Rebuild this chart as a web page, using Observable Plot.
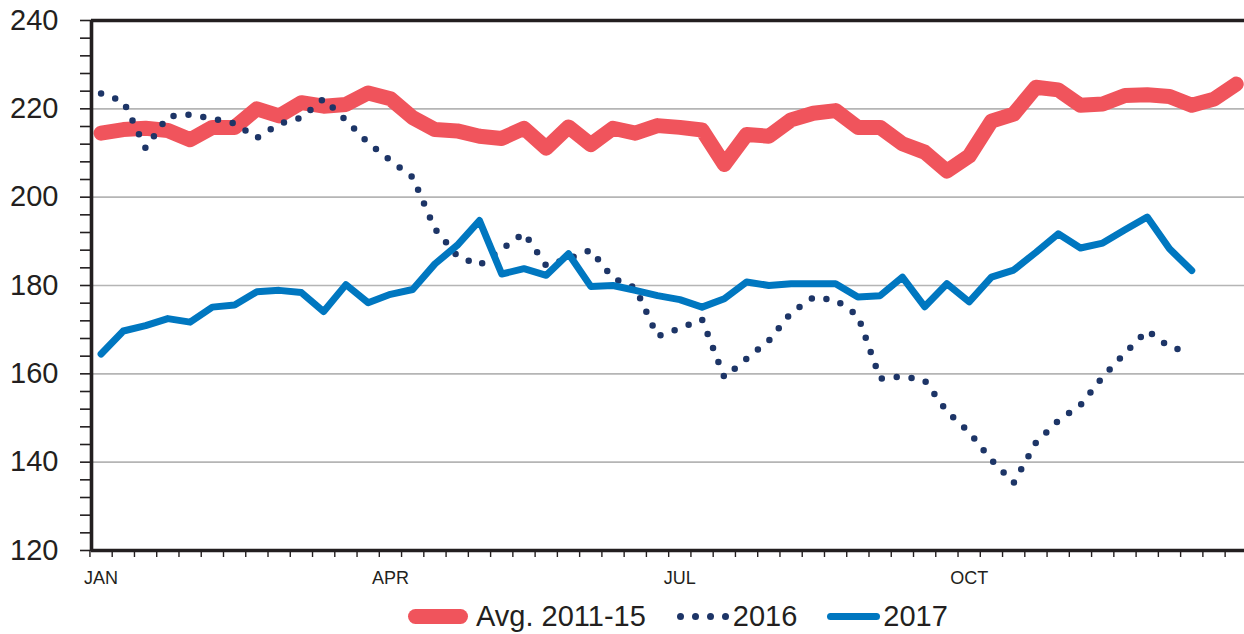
<!DOCTYPE html>
<html>
<head>
<meta charset="utf-8">
<script src="https://cdn.jsdelivr.net/npm/d3@7"></script>
<script src="https://cdn.jsdelivr.net/npm/@observablehq/plot@0.6"></script>
<style>
  html, body { margin: 0; padding: 0; background: #ffffff; }
  #wrap { position: relative; width: 1244px; height: 634px; font-family: "Liberation Sans", Arial, sans-serif; color: #231f20; }
  #legend { position: absolute; top: 597px; left: 408px; height: 38px; display: flex; align-items: center; font-size: 29px; line-height: 38px; white-space: nowrap; }
  .sw-red { display: inline-block; width: 60px; height: 15px; border-radius: 7.5px; background: #f0545c; margin-right: 8px; }
  .sw-dots { display: inline-flex; gap: 8px; margin-left: 31px; margin-right: 4px; }
  .sw-dots span { display: inline-block; width: 7px; height: 7px; border-radius: 50%; background: #1d3567; }
  .sw-blue { display: inline-block; width: 53px; height: 7px; border-radius: 3.5px; background: #0077c0; margin-left: 30px; margin-right: 3px; }
</style>
</head>
<body>
<div id="wrap">
  <div id="chart"></div>
  <div id="legend"></div>
</div>
<script>
// ---- data (weekly, Jan-Dec) ----
const seriesNames = ["Avg. 2011-15", "2016", "2017"];
const seriesColors = ["#f0545c", "#1d3567", "#0077c0"];

const avg2011_15 = [
  214.5, 215.3, 215.6, 215.1, 213.0, 215.8, 215.8, 220.0, 218.4, 221.4,
  220.6, 221.0, 223.6, 222.3, 218.0, 215.3, 215.0, 213.8, 213.3, 215.6,
  211.1, 215.9, 211.9, 215.6, 214.5, 216.2, 215.8, 215.2, 207.4, 214.2,
  213.8, 217.5, 219.0, 219.6, 215.8, 215.8, 212.1, 210.2, 205.9, 209.3,
  217.2, 218.8, 224.9, 224.3, 220.8, 221.1, 223.0, 223.2, 222.8, 220.8,
  222.2, 225.6
];

const y2016 = [
  223.5, 221.7, 211.1, 218.3, 218.7, 217.8, 216.7, 213.4, 216.6, 218.0,
  222.3, 217.4, 212.3, 208.3, 204.5, 192.8, 186.7, 184.6, 188.2, 191.9,
  184.5, 186.1, 188.0, 181.6, 179.5, 168.5, 170.3, 172.3, 159.2, 163.4,
  167.5, 173.8, 177.3, 176.7, 173.2, 158.9, 159.4, 158.5, 151.5, 146.8,
  140.5, 135.3, 144.4, 149.4, 152.9, 159.3, 164.7, 169.8, 166.1, 164.8
];

const y2017 = [
  164.5, 169.7, 170.9, 172.5, 171.7, 175.1, 175.6, 178.6, 178.9, 178.4,
  174.1, 180.2, 176.1, 178.0, 179.1, 184.9, 189.1, 194.7, 182.6, 183.8,
  182.3, 187.2, 179.8, 180.0, 178.9, 177.7, 176.8, 175.1, 177.0, 180.8,
  180.0, 180.4, 180.4, 180.4, 177.4, 177.7, 181.9, 175.2, 180.4, 176.3,
  181.9, 183.5, 187.5, 191.7, 188.5, 189.6, 192.6, 195.5, 188.3, 183.4
];

const monthLabels = ["JAN", "APR", "JUL", "OCT"];
const monthWeeks = [0, 13, 26, 39];
const yLabelTicks = [120, 140, 160, 180, 200, 220, 240];
const yGridTicks = [140, 160, 180, 200, 220];

// ---- build rows ----
const toRows = (arr, name) => arr.map((v, i) => ({week: i, value: v, series: name}));
const rowsAvg = toRows(avg2011_15, seriesNames[0]);
const rows2016 = toRows(y2016, seriesNames[1]);
const rows2017 = toRows(y2017, seriesNames[2]);

const xDomain = [-0.43, 51.37];
const weekBounds = d3.range(52).map(i => i - 0.5);
const minorY = d3.range(120, 241, 4);
const ink = "#231f20";
const font = "Liberation Sans, Arial, sans-serif";

const chart = Plot.plot({
  width: 1244,
  height: 595,
  marginLeft: 91,
  marginRight: 0,
  marginTop: 20,
  marginBottom: 45,
  style: {fontFamily: font, color: ink, background: "#ffffff", overflow: "visible"},
  x: {domain: xDomain, label: null},
  y: {domain: [120, 240], label: null},
  marks: [
    Plot.gridY(yGridTicks, {stroke: "#b5b5b5", strokeOpacity: 1, strokeWidth: 1.6}),
    Plot.axisY(minorY, {tickSize: 11, tickFormat: () => "", stroke: ink, strokeWidth: 1.6, label: null}),
    Plot.axisY(yLabelTicks, {tickSize: 0, tickPadding: 33, fontSize: 29, fontFamily: font, label: null}),
    Plot.axisX(weekBounds, {tickSize: 7, tickFormat: () => "", stroke: ink, strokeWidth: 1.4, label: null}),
    Plot.axisX(monthWeeks, {tickSize: 0, tickPadding: 21, fontSize: 18, fontFamily: font,
      tickFormat: d => monthLabels[monthWeeks.indexOf(d)], label: null}),
    Plot.line(rowsAvg, {x: "week", y: "value", stroke: seriesColors[0], strokeWidth: 15,
      strokeLinejoin: "round", strokeLinecap: "round"}),
    Plot.line(rows2016, {x: "week", y: "value", stroke: seriesColors[1], strokeWidth: 6.5,
      strokeLinecap: "round", strokeLinejoin: "round", strokeDasharray: "0 15"}),
    Plot.line(rows2017, {x: "week", y: "value", stroke: seriesColors[2], strokeWidth: 7,
      strokeLinejoin: "round", strokeLinecap: "round"}),
    Plot.ruleY([120, 240], {stroke: ink, strokeWidth: 3.6}),
    Plot.ruleX([xDomain[0]], {stroke: ink, strokeWidth: 3.6})
  ]
});
document.getElementById("chart").appendChild(chart);

// ---- legend ----
const legend = document.getElementById("legend");
legend.innerHTML =
  `<span class="sw-red"></span><span>${seriesNames[0]}</span>` +
  `<span class="sw-dots"><span></span><span></span><span></span><span></span></span><span>${seriesNames[1]}</span>` +
  `<span class="sw-blue"></span><span>${seriesNames[2]}</span>`;
</script>
</body>
</html>
